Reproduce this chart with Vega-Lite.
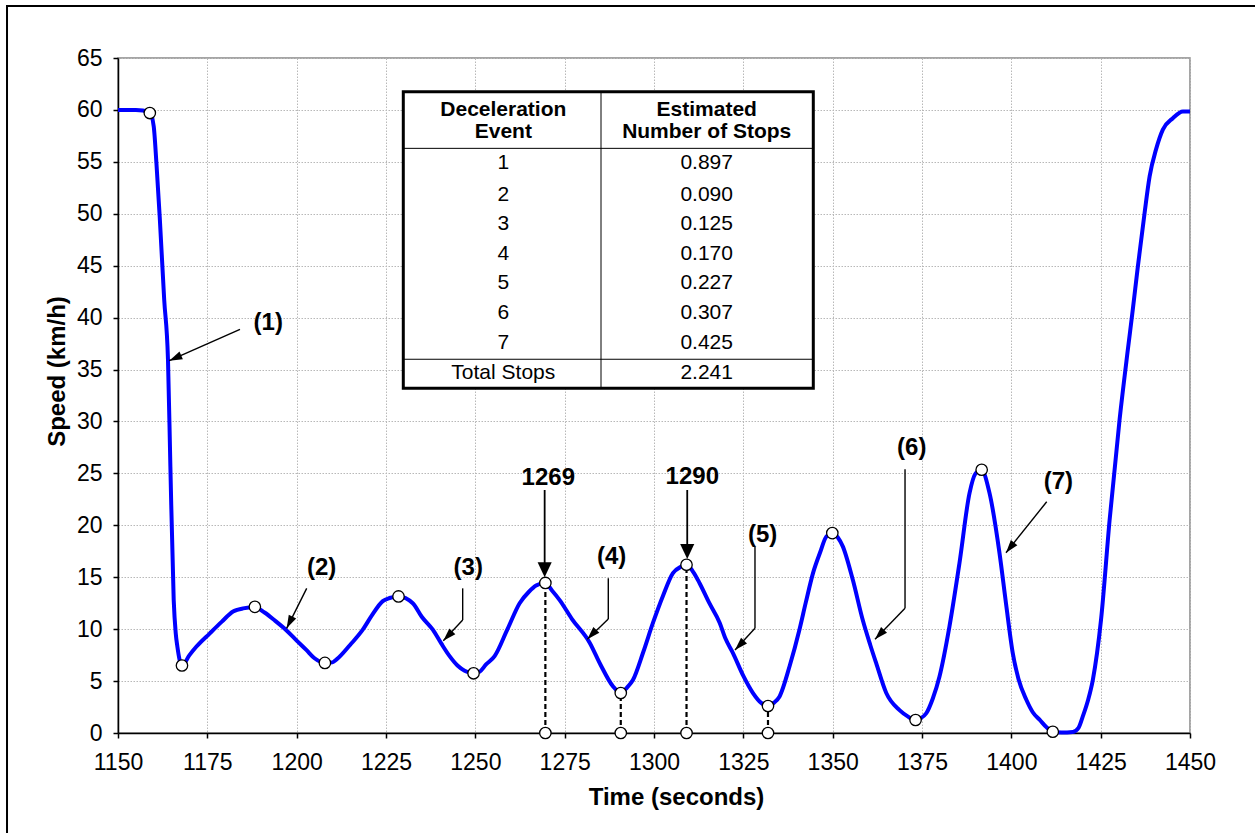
{
  "$schema": "https://vega.github.io/schema/vega-lite/v6.json",
  "width": 1072,
  "height": 675,
  "autosize": {"type": "none"},
  "padding": {"left": 118, "top": 58, "right": 65, "bottom": 100},
  "background": "white",
  "config": {
    "font": "Liberation Sans",
    "view": {"stroke": "#888888", "strokeWidth": 1.5},
    "axis": {
      "domainColor": "black", "domainWidth": 1.5,
      "tickColor": "black", "tickWidth": 1.5, "tickSize": 5,
      "labelColor": "black", "labelFontSize": 23, "labelFont": "Liberation Sans",
      "labelFlush": false, "labelOverlap": false, "format": "d",
      "grid": true, "gridColor": "#b8b8b8", "gridDash": [1.5, 1.5], "gridWidth": 1,
      "titleColor": "black", "titleFontSize": 24, "titleFontWeight": "bold", "titleFont": "Liberation Sans"
    }
  },
  "datasets": {
    "speed": [
      {"t": 1150, "v": 60}, {"t": 1155, "v": 60}, {"t": 1158.9, "v": 59.8}, {"t": 1160, "v": 58.4},
      {"t": 1160.75, "v": 54.89}, {"t": 1161.67, "v": 49.72}, {"t": 1162.93, "v": 41.72}, {"t": 1163.99, "v": 35.94},
      {"t": 1164.66, "v": 25.64}, {"t": 1165.59, "v": 12.8}, {"t": 1166.15, "v": 9.63},
      {"t": 1166.62, "v": 8.31}, {"t": 1167.91, "v": 6.48}, {"t": 1170, "v": 7.5}, {"t": 1171.9, "v": 8.3},
      {"t": 1175.7, "v": 9.6}, {"t": 1179, "v": 10.7}, {"t": 1182.2, "v": 11.7}, {"t": 1185, "v": 12.0},
      {"t": 1188.3, "v": 12.1}, {"t": 1191, "v": 11.6}, {"t": 1194, "v": 10.8}, {"t": 1197.1, "v": 9.9},
      {"t": 1200, "v": 8.9}, {"t": 1202.7, "v": 8.0}, {"t": 1205, "v": 7.2}, {"t": 1207.8, "v": 6.75},
      {"t": 1210, "v": 6.8}, {"t": 1211.1, "v": 7.06}, {"t": 1215, "v": 8.5}, {"t": 1218.5, "v": 9.95},
      {"t": 1221, "v": 11.3}, {"t": 1224.1, "v": 12.7}, {"t": 1226, "v": 13.0}, {"t": 1228.5, "v": 13.15},
      {"t": 1232.5, "v": 12.5}, {"t": 1235, "v": 11.2}, {"t": 1238.1, "v": 9.95}, {"t": 1240.5, "v": 8.6},
      {"t": 1242.8, "v": 7.4}, {"t": 1245, "v": 6.5}, {"t": 1247, "v": 6.0}, {"t": 1249.3, "v": 5.75},
      {"t": 1251.2, "v": 5.9}, {"t": 1253, "v": 6.6}, {"t": 1255.4, "v": 7.4}, {"t": 1259, "v": 10.0},
      {"t": 1262.4, "v": 12.5}, {"t": 1265, "v": 13.6}, {"t": 1267, "v": 14.2}, {"t": 1269.5, "v": 14.45},
      {"t": 1271.5, "v": 13.7}, {"t": 1273.6, "v": 12.8}, {"t": 1277, "v": 11.0}, {"t": 1282, "v": 8.7},
      {"t": 1285, "v": 6.6}, {"t": 1288.5, "v": 4.5}, {"t": 1290.7, "v": 3.85}, {"t": 1292.5, "v": 4.4},
      {"t": 1294.1, "v": 5.1}, {"t": 1297, "v": 7.8}, {"t": 1299.7, "v": 10.6}, {"t": 1302.5, "v": 13.2},
      {"t": 1305.3, "v": 15.4}, {"t": 1307.5, "v": 16.0}, {"t": 1309.2, "v": 16.2}, {"t": 1311, "v": 15.5},
      {"t": 1312.8, "v": 14.4}, {"t": 1315.5, "v": 12.5}, {"t": 1318.4, "v": 10.6}, {"t": 1320, "v": 9.1},
      {"t": 1322.1, "v": 7.7}, {"t": 1325, "v": 5.5}, {"t": 1327.7, "v": 3.85}, {"t": 1330, "v": 2.9},
      {"t": 1332.1, "v": 2.6}, {"t": 1333.5, "v": 2.9}, {"t": 1335.1, "v": 3.5}, {"t": 1338, "v": 6.5},
      {"t": 1340.7, "v": 9.95}, {"t": 1342.5, "v": 12.6}, {"t": 1344.5, "v": 15.4}, {"t": 1346.5, "v": 17.4},
      {"t": 1348.2, "v": 18.9}, {"t": 1350, "v": 19.25}, {"t": 1351.5, "v": 18.8}, {"t": 1352.8, "v": 18.0},
      {"t": 1355.6, "v": 14.8}, {"t": 1358.4, "v": 10.9}, {"t": 1360.5, "v": 8.5}, {"t": 1362.2, "v": 6.7},
      {"t": 1365, "v": 3.85}, {"t": 1368.7, "v": 2.2}, {"t": 1371, "v": 1.6}, {"t": 1372.9, "v": 1.25},
      {"t": 1374.5, "v": 1.4}, {"t": 1376.2, "v": 1.9}, {"t": 1378, "v": 3.3}, {"t": 1379.9, "v": 5.45},
      {"t": 1382.7, "v": 10.3}, {"t": 1385.5, "v": 16.4}, {"t": 1388.3, "v": 23.1}, {"t": 1390, "v": 25.0},
      {"t": 1391.6, "v": 25.35}, {"t": 1393.9, "v": 23.1}, {"t": 1396.7, "v": 17.3}, {"t": 1398.5, "v": 12.5},
      {"t": 1400.4, "v": 7.7}, {"t": 1402, "v": 5.2}, {"t": 1404.2, "v": 3.2}, {"t": 1406, "v": 2.0},
      {"t": 1407.9, "v": 1.28}, {"t": 1410, "v": 0.5}, {"t": 1411.6, "v": 0.15}, {"t": 1414, "v": 0.05},
      {"t": 1417.2, "v": 0.1}, {"t": 1418.8, "v": 0.5}, {"t": 1420, "v": 1.6}, {"t": 1421.5, "v": 3.2},
      {"t": 1422.8, "v": 5.1}, {"t": 1425.1, "v": 10.9}, {"t": 1427.5, "v": 20.5}, {"t": 1430.3, "v": 30.2},
      {"t": 1432.6, "v": 36.9}, {"t": 1434, "v": 40.8}, {"t": 1435.4, "v": 44.9}, {"t": 1437.3, "v": 50.1},
      {"t": 1438.7, "v": 53.6}, {"t": 1440.5, "v": 56.2}, {"t": 1442.4, "v": 58.1}, {"t": 1445.2, "v": 59.2},
      {"t": 1448, "v": 59.85}, {"t": 1450, "v": 59.85}
    ],
    "keys": [
      {"t": 1158.9, "v": 59.7}, {"t": 1167.9, "v": 6.5}, {"t": 1188.3, "v": 12.15}, {"t": 1207.9, "v": 6.75},
      {"t": 1228.5, "v": 13.15}, {"t": 1249.5, "v": 5.75}, {"t": 1269.6, "v": 14.45}, {"t": 1290.7, "v": 3.85},
      {"t": 1309.1, "v": 16.2}, {"t": 1331.9, "v": 2.6}, {"t": 1349.9, "v": 19.25}, {"t": 1373.2, "v": 1.25},
      {"t": 1391.7, "v": 25.35}, {"t": 1411.6, "v": 0.12},
      {"t": 1269.6, "v": 0}, {"t": 1290.7, "v": 0}, {"t": 1309.1, "v": 0}, {"t": 1331.9, "v": 0}
    ],
    "drops": [
      {"t": 1269.6, "v": 0, "v2": 14.45}, {"t": 1290.7, "v": 0, "v2": 3.85},
      {"t": 1309.1, "v": 0, "v2": 16.2}, {"t": 1331.9, "v": 0, "v2": 2.6}
    ],
    "segs": [
      {"id": "1", "t": 1184.14, "v": 38.87, "t2": 1164.36, "v2": 35.85},
      {"id": "2", "t": 1202.8, "v": 13.93, "t2": 1197.2, "v2": 10.08},
      {"id": "3", "t": 1246.46, "v": 13.93, "t2": 1246.46, "v2": 10.88},
      {"id": "3", "t": 1246.46, "v": 10.88, "t2": 1241.04, "v2": 8.89},
      {"id": "4", "t": 1287.21, "v": 14.9, "t2": 1287.21, "v2": 10.98},
      {"id": "4", "t": 1287.21, "v": 10.98, "t2": 1281.34, "v2": 9.02},
      {"id": "5", "t": 1328.26, "v": 17.94, "t2": 1328.26, "v2": 10.08},
      {"id": "5", "t": 1328.26, "v": 10.08, "t2": 1322.67, "v2": 7.99},
      {"id": "6", "t": 1370.25, "v": 25.39, "t2": 1370.25, "v2": 12.01},
      {"id": "6", "t": 1370.25, "v": 12.01, "t2": 1361.85, "v2": 9.02},
      {"id": "7", "t": 1409.9, "v": 22.27, "t2": 1398.51, "v2": 17.36}
    ],
    "bigsegs": [
      {"id": "1269", "t": 1269.4, "v": 23.4, "t2": 1269.4, "v2": 16.0},
      {"id": "1290", "t": 1309.3, "v": 23.4, "t2": 1309.3, "v2": 17.5}
    ],
    "heads": [
      {"id": "1", "t": 1164.36, "v": 35.85},
      {"id": "2", "t": 1197.2, "v": 10.08},
      {"id": "3", "t": 1241.04, "v": 8.89},
      {"id": "4", "t": 1281.34, "v": 9.02},
      {"id": "5", "t": 1322.67, "v": 7.99},
      {"id": "6", "t": 1361.85, "v": 9.02},
      {"id": "7", "t": 1398.51, "v": 17.36},
      {"id": "1269", "t": 1269.4, "v": 15.0},
      {"id": "1290", "t": 1309.3, "v": 16.75}
    ],
    "labels": [
      {"label": "(1)", "t": 1192.06, "v": 39.45},
      {"label": "(2)", "t": 1207.0, "v": 15.86},
      {"label": "(3)", "t": 1248.03, "v": 15.86},
      {"label": "(4)", "t": 1288.16, "v": 16.98},
      {"label": "(5)", "t": 1330.42, "v": 19.07},
      {"label": "(6)", "t": 1372.12, "v": 27.42},
      {"label": "(7)", "t": 1413.15, "v": 24.2},
      {"label": "1269", "t": 1270.42, "v": 24.53},
      {"label": "1290", "t": 1310.72, "v": 24.68}
    ],
    "tableBox": [{"t": 1229.84, "v": 61.76, "t2": 1344.58, "v2": 33.19}],
    "tableLines": [
      {"t": 1229.84, "v": 56.3, "t2": 1344.58, "v2": 56.3},
      {"t": 1229.84, "v": 35.99, "t2": 1344.58, "v2": 35.99},
      {"t": 1285.17, "v": 61.76, "t2": 1285.17, "v2": 33.19}
    ],
    "tableHead": [
      {"text": "Deceleration", "t": 1257.83, "v": 59.99},
      {"text": "Event", "t": 1257.83, "v": 57.9},
      {"text": "Estimated", "t": 1314.75, "v": 59.99},
      {"text": "Number of Stops", "t": 1314.75, "v": 57.9}
    ],
    "tableBody": [
      {"text": "1", "t": 1257.83, "v": 54.86}, {"text": "0.897", "t": 1314.75, "v": 54.86},
      {"text": "2", "t": 1257.83, "v": 51.81}, {"text": "0.090", "t": 1314.75, "v": 51.81},
      {"text": "3", "t": 1257.83, "v": 48.99}, {"text": "0.125", "t": 1314.75, "v": 48.99},
      {"text": "4", "t": 1257.83, "v": 46.13}, {"text": "0.170", "t": 1314.75, "v": 46.13},
      {"text": "5", "t": 1257.83, "v": 43.3}, {"text": "0.227", "t": 1314.75, "v": 43.3},
      {"text": "6", "t": 1257.83, "v": 40.42}, {"text": "0.307", "t": 1314.75, "v": 40.42},
      {"text": "7", "t": 1257.83, "v": 37.58}, {"text": "0.425", "t": 1314.75, "v": 37.58},
      {"text": "Total Stops", "t": 1257.83, "v": 34.7}, {"text": "2.241", "t": 1314.75, "v": 34.7}
    ],
    "frame": [{"t": 1118.94, "v": 70.0, "t2": 1475, "v2": -15}]
  },
  "layer": [
    {
      "data": {"name": "speed"},
      "mark": {"type": "line", "color": "#0000ff", "strokeWidth": 4, "interpolate": "monotone"},
      "encoding": {
        "x": {"field": "t", "type": "quantitative",
              "scale": {"domain": [1150, 1450], "nice": false, "zero": false},
              "axis": {"title": "Time (seconds)", "values": [1150, 1175, 1200, 1225, 1250, 1275, 1300, 1325, 1350, 1375, 1400, 1425, 1450],
                       "labelPadding": 13, "titleX": 558, "titleY": 64, "titleBaseline": "middle", "titleAlign": "center", "titleAnchor": null}},
        "y": {"field": "v", "type": "quantitative",
              "scale": {"domain": [0, 65], "nice": false},
              "axis": {"title": "Speed (km/h)", "values": [0, 5, 10, 15, 20, 25, 30, 35, 40, 45, 50, 55, 60, 65],
                       "labelPadding": 11, "titleX": -61, "titleY": 313, "titleBaseline": "middle", "titleAlign": "center", "titleAnchor": null}}
      }
    },
    {
      "data": {"name": "frame"},
      "mark": {"type": "rect", "fill": null, "fillOpacity": 0, "stroke": "black", "strokeWidth": 2, "clip": false},
      "encoding": {
        "x": {"field": "t", "type": "quantitative"}, "x2": {"field": "t2"},
        "y": {"field": "v", "type": "quantitative"}, "y2": {"field": "v2"}
      }
    },
    {
      "data": {"name": "tableBox"},
      "mark": {"type": "rect", "fill": "white", "stroke": "black", "strokeWidth": 3},
      "encoding": {
        "x": {"field": "t", "type": "quantitative"}, "x2": {"field": "t2"},
        "y": {"field": "v", "type": "quantitative"}, "y2": {"field": "v2"}
      }
    },
    {
      "data": {"name": "tableLines"},
      "mark": {"type": "rule", "color": "black", "strokeWidth": 1},
      "encoding": {
        "x": {"field": "t", "type": "quantitative"}, "x2": {"field": "t2"},
        "y": {"field": "v", "type": "quantitative"}, "y2": {"field": "v2"}
      }
    },
    {
      "data": {"name": "tableHead"},
      "mark": {"type": "text", "fontSize": 21, "fontWeight": "bold", "color": "black", "baseline": "middle", "align": "center"},
      "encoding": {
        "x": {"field": "t", "type": "quantitative"}, "y": {"field": "v", "type": "quantitative"},
        "text": {"field": "text"}
      }
    },
    {
      "data": {"name": "tableBody"},
      "mark": {"type": "text", "fontSize": 21, "color": "black", "baseline": "middle", "align": "center"},
      "encoding": {
        "x": {"field": "t", "type": "quantitative"}, "y": {"field": "v", "type": "quantitative"},
        "text": {"field": "text"}
      }
    },
    {
      "data": {"name": "drops"},
      "mark": {"type": "rule", "color": "black", "strokeWidth": 2.2, "strokeDash": [5, 3]},
      "encoding": {
        "x": {"field": "t", "type": "quantitative"},
        "y": {"field": "v", "type": "quantitative"}, "y2": {"field": "v2"}
      }
    },
    {
      "data": {"name": "keys"},
      "mark": {"type": "point", "shape": "circle", "filled": true, "fill": "white", "stroke": "black", "strokeWidth": 1.3, "size": 130, "opacity": 1, "clip": false},
      "encoding": {
        "x": {"field": "t", "type": "quantitative"}, "y": {"field": "v", "type": "quantitative"}
      }
    },
    {
      "data": {"name": "segs"},
      "mark": {"type": "rule", "color": "black", "strokeWidth": 1.4},
      "encoding": {
        "x": {"field": "t", "type": "quantitative"}, "x2": {"field": "t2"},
        "y": {"field": "v", "type": "quantitative"}, "y2": {"field": "v2"}
      }
    },
    {
      "data": {"name": "bigsegs"},
      "mark": {"type": "rule", "color": "black", "strokeWidth": 1.8},
      "encoding": {
        "x": {"field": "t", "type": "quantitative"}, "x2": {"field": "t2"},
        "y": {"field": "v", "type": "quantitative"}, "y2": {"field": "v2"}
      }
    },
    {
      "data": {"name": "heads"},
      "transform": [{"filter": "datum.id == '1'"}],
      "mark": {"type": "point", "shape": "M0,0L-1,-0.32L-1,0.32Z", "filled": true, "color": "black", "opacity": 1, "size": 676, "angle": 156},
      "encoding": {"x": {"field": "t", "type": "quantitative"}, "y": {"field": "v", "type": "quantitative"}}
    },
    {
      "data": {"name": "heads"},
      "transform": [{"filter": "datum.id == '2'"}],
      "mark": {"type": "point", "shape": "M0,0L-1,-0.32L-1,0.32Z", "filled": true, "color": "black", "opacity": 1, "size": 676, "angle": 116.6},
      "encoding": {"x": {"field": "t", "type": "quantitative"}, "y": {"field": "v", "type": "quantitative"}}
    },
    {
      "data": {"name": "heads"},
      "transform": [{"filter": "datum.id == '3' || datum.id == '4' || datum.id == '5' || datum.id == '6'"}],
      "mark": {"type": "point", "shape": "M0,0L-1,-0.32L-1,0.32Z", "filled": true, "color": "black", "opacity": 1, "size": 676, "angle": 134},
      "encoding": {"x": {"field": "t", "type": "quantitative"}, "y": {"field": "v", "type": "quantitative"}}
    },
    {
      "data": {"name": "heads"},
      "transform": [{"filter": "datum.id == '7'"}],
      "mark": {"type": "point", "shape": "M0,0L-1,-0.32L-1,0.32Z", "filled": true, "color": "black", "opacity": 1, "size": 676, "angle": 128.6},
      "encoding": {"x": {"field": "t", "type": "quantitative"}, "y": {"field": "v", "type": "quantitative"}}
    },
    {
      "data": {"name": "heads"},
      "transform": [{"filter": "datum.id == '1269' || datum.id == '1290'"}],
      "mark": {"type": "point", "shape": "M0,0L-1,-0.47L-1,0.47Z", "filled": true, "color": "black", "opacity": 1, "size": 900, "angle": 90},
      "encoding": {"x": {"field": "t", "type": "quantitative"}, "y": {"field": "v", "type": "quantitative"}}
    },
    {
      "data": {"name": "labels"},
      "mark": {"type": "text", "fontSize": 24, "fontWeight": "bold", "color": "black", "baseline": "middle", "align": "center"},
      "encoding": {
        "x": {"field": "t", "type": "quantitative"}, "y": {"field": "v", "type": "quantitative"},
        "text": {"field": "label"}
      }
    }
  ]
}
